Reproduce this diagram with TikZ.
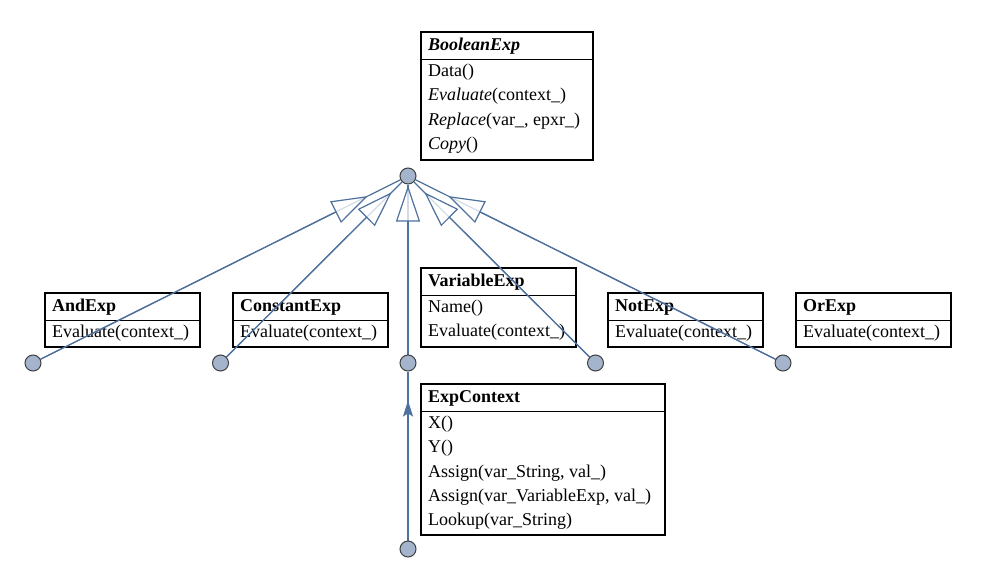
\documentclass[tikz,border=0pt]{standalone}
\usepackage{fontspec}
\setmainfont{Liberation Serif}
\usetikzlibrary{arrows.meta,decorations.markings}
\pgfdeclarelayer{top}
\pgfsetlayers{main,top}
\definecolor{edgeblue}{HTML}{4E719D}
\definecolor{vfill}{HTML}{A3B4CC}
\definecolor{vdraw}{HTML}{404040}
\tikzset{
  box/.style={draw=black, line width=1.9pt, fill=white, inner sep=0pt},
  sepline/.style={draw=black, line width=1.2pt},
  txt/.style={inner sep=0pt, font=\fontsize{18}{24.2}\selectfont},
  vtx/.style={circle, draw=vdraw, fill=vfill, line width=1pt, minimum size=16pt, inner sep=0pt},
  edge/.style={draw=edgeblue, line width=1.2pt},
  inh/.style={edge, fill opacity=0.75, -{Triangle[length=36pt,width=24pt,fill=white]}},
}
\newcommand\umlbox[6]{%
  \node[box, minimum width=#3pt, minimum height=#4pt, anchor=south west] (#1) at #2 {};
  \draw[sepline] ([yshift=-28pt]#1.north west) -- ([yshift=-28pt]#1.north east);
  \node[txt, anchor=base west] (#1-title) at ([xshift=8pt,yshift=-19.5pt]#1.north west) {#5};
  \node[txt, anchor=base west] (#1-ops) at ([xshift=8pt,yshift=-45.5pt]#1.north west) {\begin{tabular}[t]{@{}l@{}}#6\end{tabular}};
}
\begin{document}
\begin{tikzpicture}[x=1pt,y=-1pt]
\useasboundingbox (0,0) rectangle (988,581);
% class boxes
\umlbox{boolexp}{(420,161)}{172}{128}{\textbf{\textit{BooleanExp}}}{Data()\\\textit{Evaluate}(context\_)\\\textit{Replace}(var\_, epxr\_)\\\textit{Copy}()}
\umlbox{andexp}{(44,348)}{155}{54}{\textbf{AndExp}}{Evaluate(context\_)}
\umlbox{constexp}{(232,348)}{155}{54}{\textbf{ConstantExp}}{Evaluate(context\_)}
\umlbox{varexp}{(420,348)}{155}{79}{\textbf{VariableExp}}{Name()\\Evaluate(context\_)}
\umlbox{notexp}{(607,348)}{155}{54}{\textbf{NotExp}}{Evaluate(context\_)}
\umlbox{orexp}{(795,348)}{155}{54}{\textbf{OrExp}}{Evaluate(context\_)}
\umlbox{ctx}{(420,536)}{244}{151}{\textbf{ExpContext}}{X()\\Y()\\Assign(var\_String, val\_)\\Assign(var\_VariableExp, val\_)\\Lookup(var\_String)}
% vertices, on the top layer
\begin{pgfonlayer}{top}
\node[vtx] (t) at (408,176) {};
\node[vtx] (c1) at (33,363) {};
\node[vtx] (c2) at (220.5,363) {};
\node[vtx] (c3) at (408,363) {};
\node[vtx] (c4) at (595.5,363) {};
\node[vtx] (c5) at (783,363) {};
\node[vtx] (b) at (408,549) {};
\end{pgfonlayer}
% edges
\foreach \c in {c1,c2,c3,c4,c5} { \draw[edge] (\c) -- (t); }
\draw[inh, shorten >=36.5pt] (c1) -- (t);
\draw[inh, shorten >=14.5pt] (c2) -- (t);
\draw[inh, shorten >=1pt] (c3) -- (t);
\draw[inh, shorten >=14.5pt] (c4) -- (t);
\draw[inh, shorten >=36.5pt] (c5) -- (t);
\draw[edge, postaction={decorate}, decoration={markings, mark=at position 140pt with {\arrow[edgeblue]{Stealth[length=16pt,width=10pt,inset=3pt]}}}] (b) -- (c3);
\end{tikzpicture}
\end{document}
